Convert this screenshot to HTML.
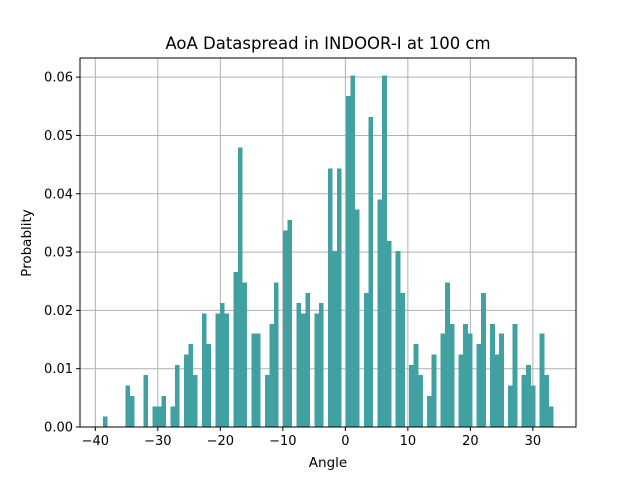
<!DOCTYPE html>
<html><head><meta charset="utf-8"><style>
body{margin:0;background:#fff}
svg{display:block;font-family:"DejaVu Sans","Liberation Sans",sans-serif}
</style></head><body>
<svg id="chart" width="640" height="480" viewBox="0 0 640 480">
<rect width="640" height="480" fill="#fff"/>
<text x="328" y="49" font-size="16.5" text-anchor="middle">AoA Dataspread in INDOOR-I at 100 cm</text>
<text x="328" y="467" font-size="13.5" text-anchor="middle">Angle</text>
<text x="0" y="0" font-size="13.5" text-anchor="middle" transform="translate(31,243) rotate(-90)">Probablity</text>
<g id="grid"></g><g id="bars" shape-rendering="crispEdges"></g><g id="axes"></g>
</svg>
<script>
const binStart = -38.8;
const binWidth = 0.72;
const binIndex = [0,5,6,9,11,12,13,15,16,18,19,20,22,23,25,26,27,29,30,31,33,34,36,37,38,40,41,43,44,45,47,48,50,51,52,54,55,56,58,59,61,62,63,65,66,68,69,70,72,73,75,76,77,79,80,81,83,84,86,87,88,90,91,93,94,95,97,98,99];
const probValues = [0.0018,0.0071,0.0053,0.0089,0.0035,0.0035,0.0053,0.0035,0.0106,0.0124,0.0142,0.0089,0.0195,0.0142,0.0195,0.0213,0.0195,0.0266,0.0479,0.0248,0.0160,0.0160,0.0089,0.0177,0.0248,0.0337,0.0355,0.0213,0.0195,0.0230,0.0195,0.0213,0.0443,0.0302,0.0443,0.0568,0.0603,0.0373,0.0230,0.0532,0.0390,0.0603,0.0319,0.0302,0.0230,0.0106,0.0142,0.0089,0.0053,0.0124,0.0160,0.0248,0.0177,0.0124,0.0177,0.0160,0.0142,0.0230,0.0177,0.0124,0.0160,0.0071,0.0177,0.0089,0.0106,0.0071,0.0160,0.0089,0.0035];
const xTicks = [-40,-30,-20,-10,0,10,20,30];
const yTicks = [0,0.01,0.02,0.03,0.04,0.05,0.06];
const yTickLabels = ["0.00","0.01","0.02","0.03","0.04","0.05","0.06"];

const L=80,R=576,T=58,B=427;
const xMin=-42.45,xMax=36.9,yMin=0,yMax=0.06328;
const xs=v=>L+(v-xMin)/(xMax-xMin)*(R-L);
const ys=v=>B-(v-yMin)/(yMax-yMin)*(B-T);
const NS="http://www.w3.org/2000/svg";
function mk(tag,attrs,parent){const e=document.createElementNS(NS,tag);for(const k in attrs)e.setAttribute(k,attrs[k]);parent.appendChild(e);return e;}
const grid=document.getElementById('grid'),bars=document.getElementById('bars'),axes=document.getElementById('axes');
xTicks.forEach(t=>{const x=xs(t);
 const g=mk('line',{x1:x,x2:x,y1:T,y2:B,stroke:'#b0b0b0','stroke-width':1},grid);
 
 
 const tk=mk('line',{x1:x,x2:x,y1:B,y2:B+4,stroke:'#000','stroke-width':1},axes);
 
 
 const tx=mk('text',{x:x,y:B+18,'font-size':13,'text-anchor':'middle'},axes);
 tx.textContent=(t<0?'\u2212'+(-t):t);
 
 
});
yTicks.forEach((t,i)=>{const y=ys(t);
 const g=mk('line',{x1:L,x2:R,y1:y,y2:y,stroke:'#b0b0b0','stroke-width':1},grid);
 
 
 const tk=mk('line',{x1:L-4,x2:L,y1:y,y2:y,stroke:'#000','stroke-width':1},axes);
 
 
 const tx=mk('text',{x:L-7,y:y+4.5,'font-size':13,'text-anchor':'end'},axes);
 tx.textContent=yTickLabels[i];
 
 
});
binIndex.forEach((bi,i)=>{
 const a=binStart+bi*binWidth;const x0=xs(a),x1=xs(a+binWidth);const y=ys(probValues[i]);
 const r=mk('rect',{x:x0,y:y,width:x1-x0+0.4,height:B-y,fill:'#41a1a0'},bars);
 
 
});
const fr=mk('rect',{x:L,y:T,width:R-L,height:B-T,fill:'none',stroke:'#000','stroke-width':1},axes);


</script>
</body></html>
